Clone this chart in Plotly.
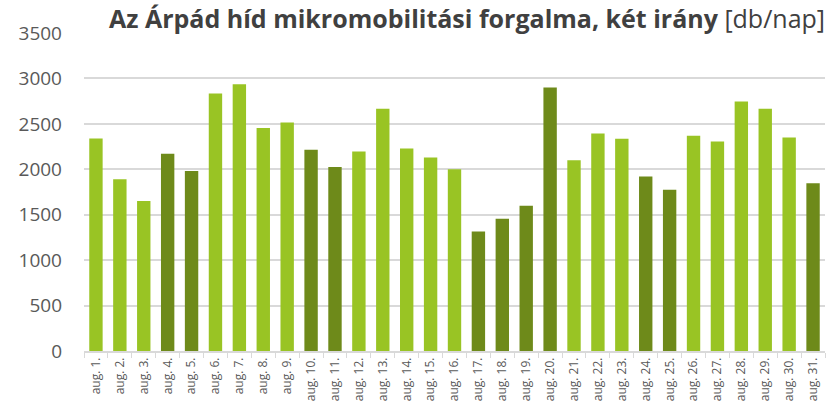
import plotly.graph_objects as go

days = [f"aug. {i}." for i in range(1, 32)]
values = [2340, 1890, 1650, 2170, 1980, 2835, 2935, 2455, 2515, 2215, 2025,
          2195, 2665, 2230, 2130, 2000, 1315, 1455, 1600, 2900, 2100, 2395,
          2335, 1920, 1775, 2370, 2305, 2745, 2665, 2350, 1845]
dark_days = [4, 5, 10, 11, 17, 18, 19, 20, 24, 25, 31]

LIGHT = "#99C424"
DARK = "#6E8A1A"
colors = [DARK if (i + 1) in dark_days else LIGHT for i in range(len(days))]

fig = go.Figure(go.Bar(
    x=days, y=values, marker=dict(color=colors, line=dict(width=0)),
))

fig.update_layout(
    width=830, height=406,
    margin=dict(l=84, r=5, t=33, b=55),
    plot_bgcolor="white", paper_bgcolor="white",
    bargap=0.44, showlegend=False,
    font=dict(family="Open Sans", color="#595959"),
)
fig.update_xaxes(
    type="category", tickangle=-90, tickfont=dict(size=12, color="#595959"),
    showline=True, linecolor="#D9D9D9", linewidth=1.5,
    ticks="outside", tickson="boundaries", ticklen=5, tickcolor="#D9D9D9",
    showgrid=False, automargin=False,
)
fig.update_yaxes(
    range=[0, 3500], dtick=500, tickfont=dict(size=19, color="#595959"),
    showgrid=True, gridcolor="#D9D9D9", gridwidth=1.5,
    zeroline=False, ticklabelstandoff=21, automargin=False,
)
fig.add_annotation(
    text="<b>Az Árpád híd mikromobilitási forgalma, két irány</b> [db/nap]",
    xref="paper", yref="paper", x=1.003, y=1 + 15 / 318, xanchor="right",
    yanchor="middle", showarrow=False,
    font=dict(size=25, color="#404040", family="Open Sans"),
)
fig.write_html(
    "out.html",
    config={"displayModeBar": False},
    post_script="document.body.style.margin='0';document.body.style.overflow='hidden';",
)
